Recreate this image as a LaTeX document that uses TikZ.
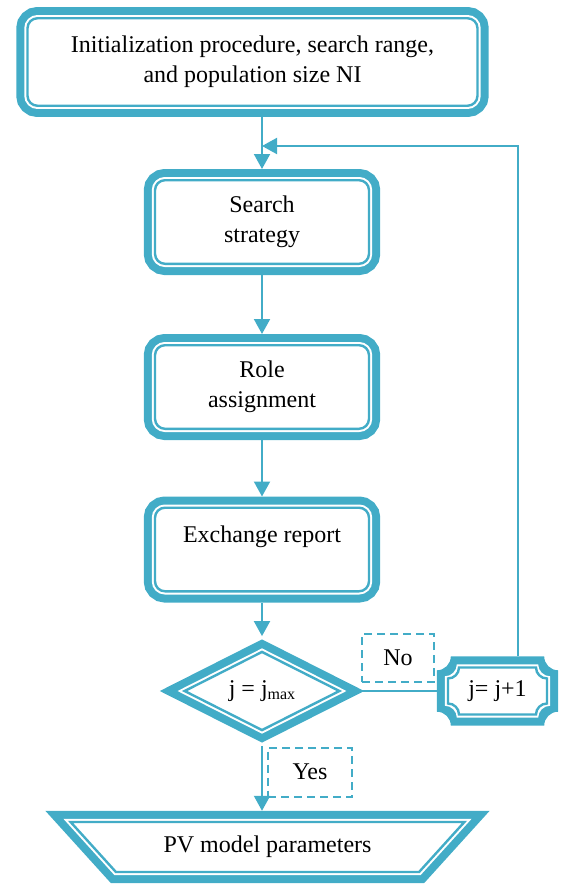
\documentclass[tikz,border=0pt]{standalone}
\usepackage{fontspec}
\setmainfont{Liberation Serif}
\usetikzlibrary{shapes.geometric,arrows.meta}
\definecolor{azzurro}{RGB}{66,172,199}
\tikzset{
  bordo/.style={draw=azzurro, fill=white, line width=1.2pt, outer sep=5.6pt,
    align=center, inner sep=0pt,
    preaction={draw=azzurro, line width=11.2pt},
    preaction={draw=white, line width=3.2pt}},
  blocco/.style={bordo, rounded corners=5pt},
  etichetta/.style={draw=azzurro, line width=1pt, dash pattern=on 4pt off 2.5pt},
  freccia/.style={draw=azzurro, line width=1pt, -{Triangle[length=7.5pt,width=8pt]}},
  linea/.style={draw=azzurro, line width=1pt}
}
% contorno con angoli concavi: nodo, distanza, raggio
\newcommand{\placca}[3]{%
  ([xshift=-#2+#3,yshift=#2]#1.north west)
  -- ([xshift=#2-#3,yshift=#2]#1.north east)
  arc[start angle=180,end angle=270,radius=#3]
  -- ([xshift=#2,yshift=-#2+#3]#1.south east)
  arc[start angle=90,end angle=180,radius=#3]
  -- ([xshift=-#2+#3,yshift=-#2]#1.south west)
  arc[start angle=0,end angle=90,radius=#3]
  -- ([xshift=-#2,yshift=#2-#3]#1.north west)
  arc[start angle=270,end angle=360,radius=#3]
  -- cycle}
\begin{document}
\begin{tikzpicture}[x=0.5pt, y=-0.5pt, font=\fontsize{12}{15}\selectfont]
  \useasboundingbox (0,0) rectangle (571,884);
  %blocchi
  \node[blocco, minimum width=225pt, minimum height=43.75pt] (init) at (252.5,62)
    {Initialization procedure, search range,\\and population size NI};
  \node[blocco, minimum width=107pt, minimum height=41.8pt] (ricerca) at (262,222)
    {Search\\strategy};
  \node[blocco, minimum width=107pt, minimum height=41.8pt] (ruolo) at (262,387)
    {Role\\assignment};
  \node[blocco, minimum width=107pt, minimum height=41.8pt] (scambio) at (262,549.5)
    {Exchange report\\\mbox{}};
  \node[bordo, diamond, minimum width=82pt, minimum height=35pt] (rombo) at (262,691)
    {j = j\raisebox{-0.3ex}{\footnotesize max}};
  \node[bordo, trapezium, trapezium angle=35, trapezium stretches=true,
    shape border rotate=180, minimum width=197pt, minimum height=25pt] (param) at (267.5,847)
    {PV model parameters};
  %blocco j+1
  \node[minimum width=49.5pt, minimum height=23.5pt, outer sep=0pt] (incr) at (497.5,691) {};
  \fill[azzurro] \placca{incr}{5.6pt}{7pt};
  \fill[white] \placca{incr}{1.6pt}{6pt};
  \draw[azzurro, line width=1.2pt, fill=white] \placca{incr}{0pt}{5.5pt};
  \node at (incr) {j= j+1};
  %etichette
  \node[etichetta, minimum width=36pt, minimum height=24pt] (no) at (398,658) {No};
  \node[etichetta, minimum width=42pt, minimum height=24.5pt] (si) at (310,772) {Yes};
  %frecce
  \coordinate (ritorno) at (262,146);
  \draw[freccia] (init.south -| ricerca.north) -- (ricerca.north);
  \draw[freccia] (ricerca) -- (ruolo);
  \draw[freccia] (ruolo) -- (scambio);
  \draw[freccia] (scambio) -- (rombo);
  \draw[freccia] (rombo.south) -- (rombo.south |- param.north);
  \draw[linea] (rombo.east) -- ([xshift=-5.6pt]incr.west);
  \draw[freccia] ([xshift=10pt,yshift=5.6pt]incr.north) |- (ritorno);
\end{tikzpicture}
\end{document}
